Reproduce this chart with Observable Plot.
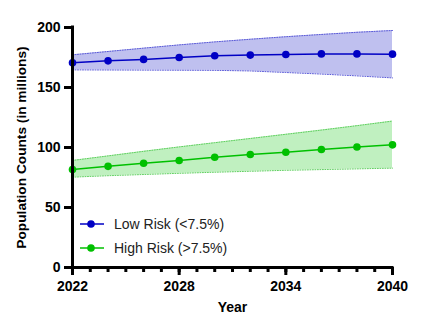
<!DOCTYPE html>
<html>
<head>
<meta charset="utf-8">
<script src="https://cdn.jsdelivr.net/npm/d3@7"></script>
<script src="https://cdn.jsdelivr.net/npm/@observablehq/plot@0.6"></script>
<style>
  html, body { margin: 0; padding: 0; background: #fff; }
  #wrap { position: relative; width: 440px; height: 331px; font-family: "Liberation Sans", Arial, sans-serif; }
  #wrap svg { display: block; }
  g[aria-label$="tick label"], g[aria-label$="axis label"] { font-weight: bold; }
  g[aria-label$="tick label"] { font-size: 14px; }
  g[aria-label="y-axis label"] { font-size: 13.7px; }
  g[aria-label="x-axis label"] { font-size: 14px; }
  .legend { position: absolute; left: 80px; top: 212px; font-size: 14px; color: #222; }
  .legend .row { display: flex; align-items: center; height: 24px; }
  .legend svg { margin-right: 10px; }
</style>
</head>
<body>
<div id="wrap"></div>
<script>
const years = [2022, 2024, 2026, 2028, 2030, 2032, 2034, 2036, 2038, 2040];
const lowRisk = [170.6, 172.2, 173.4, 175.0, 176.4, 177.0, 177.5, 178.0, 178.0, 177.8];
const lowUpper = [177.2, 180.0, 182.8, 185.5, 188.0, 190.2, 192.3, 194.2, 196.0, 197.5];
const lowLower = [164.7, 164.6, 164.5, 164.4, 164.3, 163.8, 162.5, 161.2, 159.7, 158.0];
const highRisk = [81.7, 84.3, 86.9, 89.2, 91.9, 94.2, 96.1, 98.3, 100.4, 102.2];
const highUpper = [89.2, 93.0, 96.8, 100.5, 104.0, 107.5, 111.0, 114.5, 118.2, 122.0];
const highLower = [75.3, 76.5, 77.5, 78.5, 79.4, 80.2, 81.0, 81.6, 82.2, 82.8];
const seriesNames = ["Low Risk (<7.5%)", "High Risk (>7.5%)"];
const yTicks = [0, 50, 100, 150, 200];
const xMajor = [2022, 2028, 2034, 2040];
const xMinor = d3.range(2022, 2041);

const lowColor = "#0000c4";
const highColor = "#00c000";
const lowFill = "#bfc0ef";
const highFill = "#c0f0c0";

const low = years.map((y, i) => ({year: y, v: lowRisk[i], hi: lowUpper[i], lo: lowLower[i]}));
const high = years.map((y, i) => ({year: y, v: highRisk[i], hi: highUpper[i], lo: highLower[i]}));

const chart = Plot.plot({
  width: 440,
  height: 331,
  marginLeft: 72,
  marginRight: 48,
  marginTop: 27,
  marginBottom: 64,
  style: {fontFamily: "Liberation Sans, Arial, sans-serif", fontSize: "13px", color: "#000", background: "#fff"},
  x: {domain: [2022, 2040]},
  y: {domain: [0, 200]},
  marks: [
    Plot.areaY(low, {x: "year", y1: "lo", y2: "hi", fill: lowFill}),
    Plot.areaY(high, {x: "year", y1: "lo", y2: "hi", fill: highFill}),
    Plot.lineY(low, {x: "year", y: "hi", stroke: "#5a5ad8", strokeWidth: 1, strokeDasharray: "1,1.5"}),
    Plot.lineY(low, {x: "year", y: "lo", stroke: "#5a5ad8", strokeWidth: 1, strokeDasharray: "1,1.5"}),
    Plot.lineY(high, {x: "year", y: "hi", stroke: "#60d060", strokeWidth: 1, strokeDasharray: "1,1.5"}),
    Plot.lineY(high, {x: "year", y: "lo", stroke: "#60d060", strokeWidth: 1, strokeDasharray: "1,1.5"}),
    Plot.lineY(low, {x: "year", y: "v", stroke: lowColor, strokeWidth: 1.5}),
    Plot.lineY(high, {x: "year", y: "v", stroke: highColor, strokeWidth: 1.5}),
    Plot.dot(low, {x: "year", y: "v", r: 3.8, fill: lowColor}),
    Plot.dot(high, {x: "year", y: "v", r: 3.8, fill: highColor}),
    Plot.axisY(yTicks, {tickSize: 8, tickPadding: 4, strokeWidth: 3, fontWeight: "bold",
      label: "Population Counts (in millions)", labelAnchor: "center", labelOffset: 56, labelArrow: false}),
    Plot.axisX(xMinor, {tickSize: 5, strokeWidth: 3, tickFormat: null, label: null, text: null}),
    Plot.axisX(xMajor, {tickSize: 8, tickPadding: 6, strokeWidth: 3, tickFormat: "d", fontWeight: "bold",
      label: "Year", labelAnchor: "center", labelOffset: 44, labelArrow: false}),
    Plot.ruleX([2022], {y1: 0, y2: 200, strokeWidth: 3, strokeLinecap: "square"}),
    Plot.ruleY([0], {strokeWidth: 3, strokeLinecap: "square"})
  ]
});

const wrap = document.getElementById("wrap");
wrap.appendChild(chart);

const legend = document.createElement("div");
legend.className = "legend";
[[seriesNames[0], lowColor], [seriesNames[1], highColor]].forEach(([name, color]) => {
  const row = document.createElement("div");
  row.className = "row";
  row.innerHTML = `<svg width="24" height="10"><line x1="0" x2="24" y1="5" y2="5" stroke="${color}" stroke-width="1.5"/><circle cx="11" cy="5" r="3.8" fill="${color}"/></svg><span></span>`;
  row.querySelector("span").textContent = name;
  legend.appendChild(row);
});
wrap.appendChild(legend);
</script>
</body>
</html>
